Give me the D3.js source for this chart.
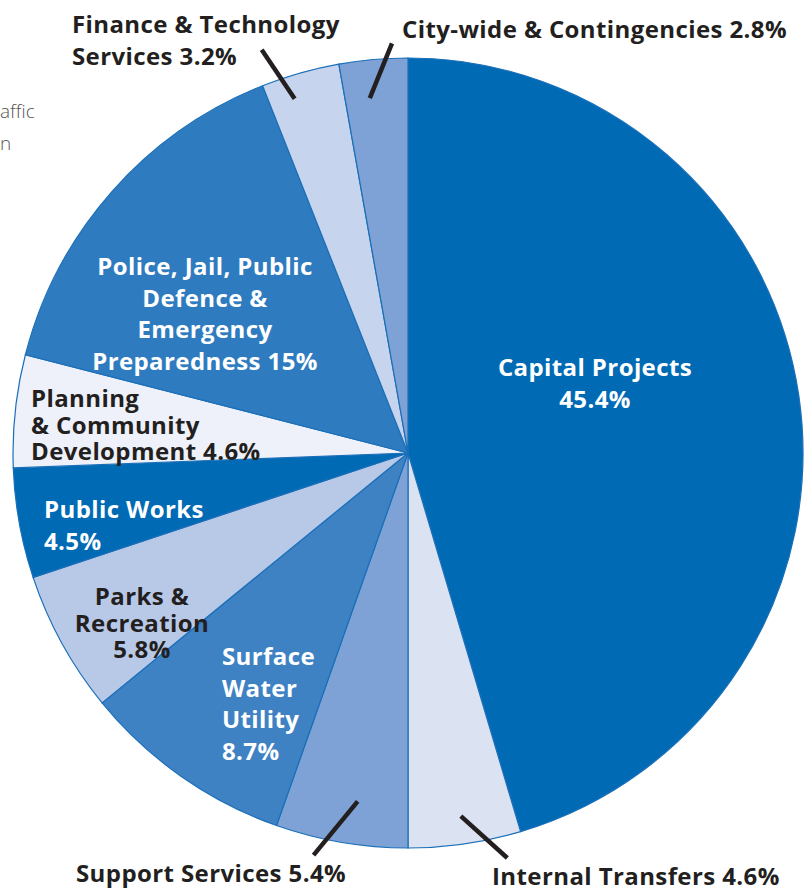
<!DOCTYPE html>
<html>
<head>
<meta charset="utf-8">
<script src="https://cdn.jsdelivr.net/npm/d3@7"></script>
<style>
  body { margin: 0; background: #fff; }
  svg { display: block; }
  text { font-family: "Open Sans", Lato, sans-serif; font-weight: 700; }
</style>
</head>
<body>
<div id="chart"></div>
<script>
const departments = [
  "Capital Projects",
  "Internal Transfers",
  "Support Services",
  "Surface Water Utility",
  "Parks & Recreation",
  "Public Works",
  "Planning & Community Development",
  "Police, Jail, Public Defence & Emergency Preparedness",
  "Finance & Technology Services",
  "City-wide & Contingencies"
]
const shares = [45.4, 4.6, 5.4, 8.7, 5.8, 4.5, 4.6, 15, 3.2, 2.8]
const labelLines = [
  ["Capital Projects", "45.4%"],
  ["Internal Transfers 4.6%"],
  ["Support Services 5.4%"],
  ["Surface", "Water", "Utility", "8.7%"],
  ["Parks &", "Recreation", "5.8%"],
  ["Public Works", "4.5%"],
  ["Planning", "& Community", "Development 4.6%"],
  ["Police, Jail, Public", "Defence &", "Emergency", "Preparedness 15%"],
  ["Finance & Technology", "Services 3.2%"],
  ["City-wide & Contingencies 2.8%"]
]

const colors = ["#006ab4", "#dbe2f2", "#7ea2d5", "#3f82c4", "#b8c9e8",
                "#006ab4", "#eef1f9", "#2f7bc0", "#c7d4ee", "#7ea2d5"]
const textColors = ["#fff", "#231f20", "#231f20", "#fff", "#231f20",
                    "#fff", "#231f20", "#fff", "#231f20", "#231f20"]

// label placement: x, y of first baseline, anchor, line step
const labelLayout = [
  { x: 595, y: 376, anchor: "middle", step: 32 },
  { x: 492, y: 885, anchor: "start", step: 0 },
  { x: 76, y: 882, anchor: "start", step: 0 },
  { x: 222, y: 665, anchor: "start", step: 31.5 },
  { x: 142, y: 605, anchor: "middle", step: 26.5 },
  { x: 44, y: 518, anchor: "start", step: 32 },
  { x: 31, y: 407, anchor: "start", step: 26.5 },
  { x: 205, y: 275, anchor: "middle", step: 31.5 },
  { x: 72, y: 33, anchor: "start", step: 32 },
  { x: 402, y: 38, anchor: "start", step: 0 }
]

// leader lines: slice index, radii and angle offsets (deg) from slice middle
const leaders = [
  { i: 1, r0: 367, r1: 417, a0: 0, a1: -5.5 },
  { i: 2, r0: 352, r1: 413, a0: -1.5, a1: 3.5 },
  { i: 8, r0: 372, r1: 429, a0: -1.9, a1: -4.1 },
  { i: 9, r0: 357, r1: 410, a0: -1.1, a1: 2.8 }
]

const width = 812
const height = 891
const cx = 408
const cy = 453
const radius = 395

const svg = d3.select("#chart")
  .append("svg")
  .attr("width", width)
  .attr("height", height)

// pieces of page text showing at the left edge
svg.append("text")
  .attr("x", 0).attr("y", 118)
  .attr("fill", "#555")
  .style("font-weight", 300)
  .style("font-size", "19px")
  .text("affic")
svg.append("text")
  .attr("x", 0).attr("y", 150)
  .attr("fill", "#555")
  .style("font-weight", 300)
  .style("font-size", "19px")
  .text("n")

const pie = d3.pie().sort(null).value(d => d)
const arcs = pie(shares)
const arc = d3.arc().innerRadius(0).outerRadius(radius)

const g = svg.append("g").attr("transform", `translate(${cx},${cy})`)

g.selectAll("path")
  .data(arcs)
  .enter()
  .append("path")
  .attr("d", arc)
  .attr("fill", (d, i) => colors[i])
  .attr("stroke", "#1b6fb8")
  .attr("stroke-width", 1.2)

// leader lines
function polar(angle, r) {
  return [Math.sin(angle) * r, -Math.cos(angle) * r]
}
leaders.forEach(l => {
  const a = arcs[l.i]
  const mid = (a.startAngle + a.endAngle) / 2
  const p0 = polar(mid + l.a0 * Math.PI / 180, l.r0)
  const p1 = polar(mid + l.a1 * Math.PI / 180, l.r1)
  g.append("line")
    .attr("x1", p0[0]).attr("y1", p0[1])
    .attr("x2", p1[0]).attr("y2", p1[1])
    .attr("stroke", "#231f20")
    .attr("stroke-width", 4.5)
})

// labels
labelLines.forEach((lines, i) => {
  const lay = labelLayout[i]
  const t = svg.append("text")
    .attr("x", lay.x)
    .attr("y", lay.y)
    .attr("text-anchor", lay.anchor)
    .attr("fill", textColors[i])
    .style("font-size", "24px")
    .style("letter-spacing", "0.4px")
  lines.forEach((line, j) => {
    t.append("tspan")
      .attr("x", lay.x)
      .attr("y", lay.y + j * lay.step)
      .text(line)
  })
})
</script>
</body>
</html>
